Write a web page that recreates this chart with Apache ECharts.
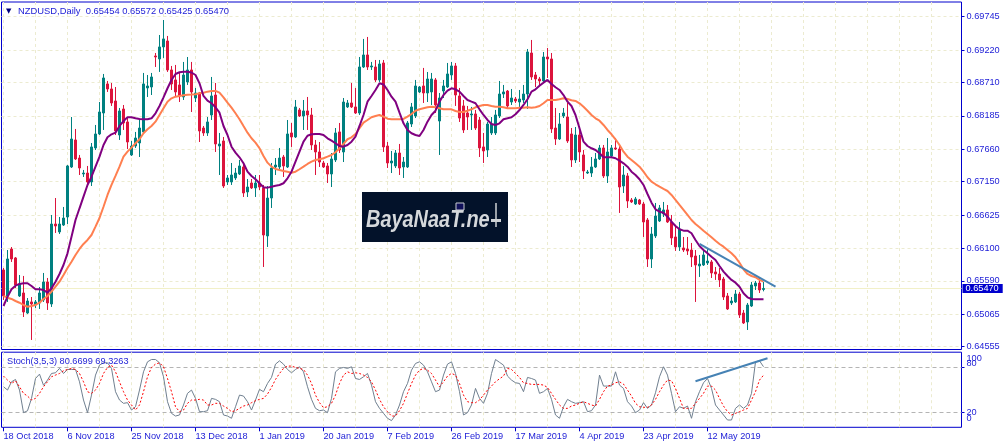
<!DOCTYPE html>
<html><head><meta charset="utf-8">
<script src="https://cdn.jsdelivr.net/npm/echarts@6/dist/echarts.min.js"></script>
<style>html,body{margin:0;padding:0;background:#fff;}#c{width:1007px;height:448px;}</style>
</head><body><div id="c"></div>
<script>
const symbolName = 'NZDUSD,Daily';
const headerOHLC = ['0.65454', '0.65572', '0.65425', '0.65470'];
const stochTitle = 'Stoch(3,5,3) 80.6699 69.3263';
const watermarkText = 'BayaNaaT.ne';
const dateLabels = ['18 Oct 2018', '6 Nov 2018', '25 Nov 2018', '13 Dec 2018', '1 Jan 2019', '20 Jan 2019',
  '7 Feb 2019', '26 Feb 2019', '17 Mar 2019', '4 Apr 2019', '23 Apr 2019', '12 May 2019'];
const labelStep = 16;
const gridStep = 8;
const slotCount = 240;
const priceTicks = [0.64555, 0.65065, 0.65590, 0.66100, 0.66625, 0.67150, 0.67660, 0.68185, 0.68710, 0.69220, 0.69745];
const priceMin = 0.64510, priceMax = 0.69976;
const lastPrice = 0.65470;
const stochInnerTicks = [20, 80];
const stochTopTick = [100];
const stochBottomTick = [0];
const stochLevels = [20, 80];

const openPrices = [
.65761,.65352,.66091,.65950,.65352,.65399,.65084,.65258,.65210,.65242,
.65289,.65572,.65226,.66484,.66359,.66468,.66594,.67381,.67806,.67522,
.67271,.67286,.67145,.67680,.67900,.68230,.68687,.68608,.68419,.67884,
.68293,.68089,.67570,.67711,.67759,.67932,.68624,.68639,.69127,.69080,
.69269,.69363,.68907,.68750,.68671,.68482,.68718,.68907,.68466,.68545,
.67994,.67916,.68199,.68513,.67711,.67790,.67145,.67145,.67208,.67271,
.67381,.66988,.67129,.67051,.67129,.67051,.66296,.66893,.67381,.67381,
.67538,.67381,.67916,.67853,.68278,.68183,.68262,.68199,.67727,.67617,
.67444,.67397,.67271,.67491,.67932,.67617,.68325,.68388,.68325,.68230,
.68954,.69143,.68954,.68954,.68750,.69017,.67711,.67444,.67397,.67601,
.67381,.67381,.68057,.68183,.68561,.68655,.68545,.68561,.68750,.68104,
.68576,.68639,.68828,.68970,.68498,.68341,.68230,.68199,.68215,.68120,
.67696,.67648,.67916,.67916,.68183,.68529,.68576,.68403,.68450,.68403,
.68435,.68529,.69174,.68828,.68765,.68734,.69111,.69080,.67994,.67821,
.68183,.68167,.67900,.67491,.67884,.67570,.67286,.67286,.67381,.67507,
.67680,.67240,.67554,.67680,.67664,.67082,.67240,.66862,.66799,.66862,
.66799,.66547,.65934,.66296,.66531,.66642,.66705,.66516,.66280,.66123,
.66107,.66091,.66075,.65981,.65824,.65839,.65871,.65887,.65730,.65698,
.65619,.65352,.65242,.65258,.65383,.65084,.64943,.65194,.65509,.65556,
.65454];
const highPrices = [
.65792,.66075,.66122,.65965,.65682,.65667,.65320,.65336,.65289,.65493,
.65714,.65635,.66626,.66893,.66594,.66752,.67412,.68167,.67979,.67570,
.67334,.67397,.67758,.68042,.68403,.68844,.68734,.68702,.68639,.68309,
.68356,.68167,.67790,.67932,.68120,.68860,.68828,.68860,.69174,.69457,
.69693,.69442,.68970,.68986,.68875,.69033,.69111,.69033,.68624,.68561,
.68026,.68167,.68797,.68702,.67916,.67853,.67255,.67444,.67365,.67491,
.67444,.67192,.67192,.67255,.67255,.67098,.67082,.67444,.67522,.67680,
.67570,.68120,.68073,.68435,.68309,.68435,.68482,.68309,.67806,.67774,
.67475,.67444,.67601,.67994,.68073,.68466,.68435,.68702,.68624,.69111,
.69395,.69426,.69033,.69064,.69064,.69064,.67774,.67633,.67648,.67743,
.67538,.68104,.68388,.68750,.68655,.68939,.68875,.68860,.68781,.68545,
.68750,.69017,.69033,.69017,.68624,.68435,.68341,.68325,.68278,.68167,
.67916,.68089,.68167,.68278,.68734,.68671,.68592,.68608,.68482,.68592,
.68671,.69237,.69379,.68875,.68797,.69190,.69253,.69174,.68309,.68230,
.68309,.68388,.67994,.68010,.67963,.67648,.67334,.67538,.67601,.67727,
.67727,.67837,.67727,.67837,.67727,.67397,.67286,.66893,.66909,.66878,
.66831,.66578,.66437,.66815,.66783,.66831,.66783,.66626,.66437,.66516,
.66280,.66280,.66186,.66075,.65997,.66091,.66091,.65918,.65808,.65792,
.65651,.65399,.65336,.65446,.65415,.65132,.65242,.65572,.65588,.65635,
.65572];
const lowPrices = [
.65289,.65258,.65887,.65478,.65336,.65021,.65069,.64660,.65163,.65147,
.65258,.65132,.65179,.66343,.66327,.66453,.66484,.67365,.67491,.67255,
.67224,.67082,.67082,.67648,.67884,.67963,.68561,.68341,.67884,.67806,
.67963,.67664,.67554,.67680,.67538,.67900,.68482,.68513,.68954,.68876,
.69096,.68876,.68592,.68482,.68403,.68435,.68671,.68246,.68403,.67774,
.67869,.67869,.68120,.67617,.67255,.67051,.67098,.67098,.67177,.67255,
.66909,.66909,.67035,.66909,.67019,.65808,.66123,.66736,.67255,.67334,
.67224,.67365,.67696,.67837,.68167,.67963,.67963,.67648,.67255,.67381,
.67365,.67129,.67066,.67459,.67601,.67459,.68309,.68309,.68215,.68199,
.68939,.68907,.68907,.68718,.68718,.67617,.67365,.67286,.67365,.67255,
.67208,.67365,.68010,.68151,.68545,.68388,.68403,.68356,.68230,.67570,
.68466,.68624,.68750,.68341,.68089,.67916,.67963,.67963,.67963,.67538,
.67444,.67538,.67884,.67884,.68151,.68466,.68309,.68356,.68388,.68325,
.68388,.68293,.68750,.68639,.68671,.68718,.68781,.67916,.67727,.67806,
.68151,.67759,.67381,.67444,.67459,.67192,.67271,.67224,.67365,.67491,
.67208,.67129,.67538,.67648,.66658,.66972,.66736,.66815,.66783,.66783,
.66280,.65808,.65792,.66264,.66516,.66594,.66500,.66154,.66060,.66060,
.66044,.65997,.65808,.65258,.65651,.65824,.65839,.65635,.65604,.65493,
.65289,.65132,.65210,.65242,.65006,.64911,.64817,.65179,.65446,.65399,
.65425];
const closePrices = [
.65352,.65934,.65934,.65525,.65541,.65100,.65273,.65226,.65258,.65399,
.65572,.65242,.66484,.66453,.66484,.66578,.67397,.67821,.67507,.67365,
.67286,.67145,.67696,.67900,.68246,.68781,.68608,.68388,.67947,.68262,
.68073,.67774,.67711,.67837,.67994,.68687,.68655,.68797,.69111,.69269,
.69395,.68907,.68687,.68561,.68498,.68828,.68907,.68561,.68545,.67947,
.67916,.68089,.68498,.67743,.67743,.67082,.67208,.67255,.67286,.67397,
.66972,.67066,.67051,.67129,.67066,.66311,.66893,.67365,.67412,.67522,
.67397,.67900,.67853,.68325,.68183,.68262,.68199,.67727,.67617,.67459,
.67381,.67271,.67507,.67916,.67648,.68403,.68388,.68325,.68230,.68954,
.69143,.68954,.68970,.68750,.69001,.67696,.67444,.67475,.67601,.67365,
.67459,.68073,.68325,.68655,.68639,.68545,.68765,.68765,.68356,.68466,
.68655,.68844,.68970,.68513,.68151,.67963,.68167,.68215,.67994,.67680,
.67633,.68057,.68057,.68199,.68529,.68561,.68341,.68466,.68419,.68450,
.68529,.69190,.68797,.68765,.68734,.69111,.69080,.67979,.67821,.68057,
.68230,.67790,.67491,.67884,.67617,.67318,.67302,.67381,.67507,.67680,
.67240,.67617,.67680,.67664,.67066,.67255,.66846,.66831,.66878,.66799,
.66516,.65934,.66327,.66610,.66736,.66705,.66516,.66264,.66123,.66406,
.66075,.66060,.65965,.65839,.65855,.65997,.65902,.65714,.65698,.65604,
.65336,.65147,.65273,.65383,.65053,.64927,.65210,.65525,.65556,.65446,
.65470];
const maSlow = [
.65352,.65325,.65305,.65273,.65246,.65210,.65183,.65194,.65210,.65246,
.65305,.65352,.65420,.65498,.65577,.65682,.65792,.65891,.65997,.66091,
.66170,.66233,.66311,.66442,.66578,.66756,.66941,.67098,.67240,.67386,
.67543,.67622,.67685,.67754,.67817,.67911,.67974,.68026,.68094,.68199,
.68304,.68408,.68461,.68487,.68498,.68509,.68518,.68521,.68525,.68540,
.68550,.68566,.68577,.68577,.68550,.68477,.68393,.68314,.68226,.68132,
.68026,.67921,.67833,.67764,.67676,.67554,.67449,.67386,.67349,.67334,
.67318,.67307,.67291,.67307,.67345,.67386,.67428,.67464,.67491,.67502,
.67518,.67543,.67570,.67612,.67676,.67743,.67817,.67848,.67900,.67990,
.68078,.68120,.68163,.68183,.68199,.68172,.68141,.68132,.68132,.68132,
.68136,.68172,.68215,.68266,.68288,.68304,.68320,.68329,.68320,.68304,
.68288,.68288,.68288,.68262,.68246,.68246,.68266,.68288,.68320,.68340,
.68356,.68356,.68340,.68329,.68329,.68320,.68304,.68304,.68304,.68313,
.68313,.68320,.68313,.68320,.68340,.68383,.68435,.68435,.68435,.68446,
.68461,.68450,.68430,.68419,.68383,.68329,.68266,.68199,.68147,.68109,
.68042,.67963,.67895,.67817,.67727,.67622,.67543,.67491,.67439,.67386,
.67307,.67219,.67150,.67109,.67071,.67035,.67003,.66941,.66862,.66783,
.66705,.66626,.66547,.66484,.66432,.66379,.66327,.66275,.66222,.66170,
.66127,.66075,.66023,.65960,.65875,.65771,.65698,.65666,.65646,.65604,
.65577];
const maFast = [
.65194,.65341,.65457,.65514,.65541,.65552,.65552,.65509,.65457,.65457,
.65446,.65404,.65473,.65577,.65698,.65839,.66023,.66285,.66547,.66731,
.66914,.67098,.67228,.67386,.67543,.67727,.67848,.67895,.67921,.68026,
.68104,.68163,.68163,.68147,.68136,.68132,.68132,.68147,.68226,.68340,
.68477,.68619,.68750,.68844,.68871,.68880,.68880,.68867,.68828,.68697,
.68498,.68424,.68383,.68320,.68235,.68026,.67884,.67700,.67606,.67533,
.67439,.67307,.67240,.67188,.67125,.67062,.67056,.67071,.67087,.67098,
.67125,.67203,.67307,.67464,.67622,.67779,.67873,.67895,.67900,.67900,
.67884,.67832,.67795,.67754,.67711,.67700,.67727,.67779,.67858,.68026,
.68199,.68408,.68498,.68592,.68697,.68679,.68592,.68487,.68408,.68235,
.68068,.67963,.67911,.67884,.67868,.67963,.68094,.68199,.68266,.68408,
.68513,.68581,.68619,.68603,.68566,.68498,.68435,.68408,.68383,.68288,
.68199,.68120,.68057,.68042,.68068,.68132,.68147,.68163,.68210,.68277,
.68356,.68446,.68566,.68603,.68660,.68707,.68750,.68687,.68635,.68592,
.68513,.68408,.68340,.68199,.67990,.67779,.67711,.67675,.67648,.67596,
.67533,.67533,.67533,.67518,.67480,.67439,.67386,.67307,.67255,.67188,
.67098,.66956,.66819,.66715,.66678,.66662,.66599,.66520,.66453,.66401,
.66379,.66379,.66338,.66233,.66138,.66075,.66023,.65970,.65918,.65824,
.65734,.65666,.65604,.65561,.65498,.65394,.65331,.65305,.65300,.65300,
.65300];
const stochK = [
54,49.6,60.6,63.7,49.6,19.5,22,38.5,65,70.8,
56,62.9,71.7,72.6,78.4,71.7,77,77,77,60.6,
36.3,19.5,42.9,69.5,82.8,85.9,85.9,78.4,47.4,36.3,
31.9,32.8,23,27.4,49.6,73.9,87.2,90.3,90.3,85.9,
67.3,34.1,18.6,15,16.4,29.7,45.2,49.6,38.5,20.8,
20.8,22.1,38.5,37.2,34.1,16.4,15,12,27.4,42.9,
41.6,34.1,23,36.3,50.5,47.4,58.4,66.4,84.1,88.5,
84.1,77,72.6,77,80.6,73.9,54,37.2,25.2,22.1,
23,19.5,38.5,73.9,78.4,79.7,78.4,80.6,65,63.7,
67.3,71.7,56.2,34.1,25.2,18.6,12,8.9,16.4,29.7,
47.4,58.4,76.1,85,87.2,82.8,73.9,60.6,47.4,49.6,
69.5,84.1,87.2,71.7,47.4,16.4,19.5,29.7,51.8,38.5,
31.9,45.2,71.7,90.3,86.5,82.8,68.2,62.9,59.3,58.4,
47.4,66.4,65,62.9,45.2,47.4,51.8,37.2,16.4,12,
27.4,37.2,34.1,31.9,32.8,34.1,20.8,22.1,29.7,69.5,
54.9,54.9,54.9,73.9,56.2,51.8,34.1,28.3,19.5,23,
32.8,25.2,29.7,46,67.3,80.6,69.5,45.2,20.8,27.4,
25.2,28.3,12,34.1,47.4,59.3,65,51.8,29.7,23,
16.4,9.7,9.7,25.2,29.7,25.2,29.7,45.2,87.2,88.5,
80.67];
const stochD = [
68.2,62.9,58.4,62,54,45.2,41.6,36.3,38.5,45.2,
54,60.6,67.3,69.5,71.7,75.3,77,78.4,77,71.7,
60.6,47.4,45.2,49.6,58.4,71.7,79.7,82.8,73.9,60.6,
47.4,36.3,29.7,23,29.7,47.4,67.3,79.7,84.1,85.9,
80.6,65,47.4,27.4,20.8,23,31.9,36.3,36.3,37.2,
36.3,29.7,29.7,31.9,31.9,28.3,25.2,20.8,22.1,25.2,
28.3,29.7,32.8,35.4,37.2,38.5,44.3,53.1,63.7,71.7,
78.4,81.5,81.5,79.7,78.4,77,69.5,58.4,42.9,32.8,
26.1,27.4,31.9,42.9,58.4,69.5,73.9,71.7,72.6,71.7,
69.5,66.4,60.6,49.6,37.2,27.4,20.8,15,15,22.1,
31.9,45.2,58.4,69.5,76.1,78.4,76.1,71.7,62.9,54,
60.6,68.2,71.7,69.5,58.4,42.9,34.1,32.8,32.8,36.3,
42.9,49.6,54.9,60.6,64.6,68.2,78.4,77,71.7,66.4,
59.3,58.4,57.1,57.1,57.1,56.2,53.1,45.2,37.2,29.7,
25.2,25.2,28.3,29.7,31.9,34.1,31.9,29.7,28.3,37.2,
47.4,54.9,56.2,59.3,60.6,57.5,49.6,41.6,31.9,27.4,
26.6,26.6,29.7,37.2,47.4,56.2,62.9,62,51.8,38.5,
25.2,25.2,25.2,31.9,38.5,45.2,54.9,54.9,49.6,38.5,
28.3,20.8,16.4,18.6,20.8,23,25.2,36.3,47.4,62.9,
69.33];
const priceTrend = [[174, 0.66170], [193, 0.65498]];
const stochTrend = [[173, 61.3], [191, 91.9]];

const FONT = '"Liberation Sans", Arial, sans-serif';
const FS = 9.2;
const BLUE = '#0000cd', TXT = '#1c1cd6', GRIDC = '#ecebd0';
const cats = Array.from({length: slotCount}, (_, i) => String(i));
const candles = openPrices.map((o, i) => [o, closePrices[i], lowPrices[i], highPrices[i]]);
const isDateTick = (i) => i % labelStep === 0 && i / labelStep < dateLabels.length;
const vSplit = {show: true, interval: (i) => i % gridStep === 0, alignWithLabel: true,
  lineStyle: {color: GRIDC, type: [3, 3], width: 1}};
const lbl = {color: TXT, fontSize: FS, fontFamily: FONT};

function stochAxis(values, extraLabel, showTick) {
  return {type: 'value', gridIndex: 1, position: 'right', min: 0, max: 100,
    axisLine: {show: false},
    axisTick: {show: showTick, customValues: values, length: 3, lineStyle: {color: BLUE}},
    axisLabel: Object.assign({customValues: values, margin: 5, showMinLabel: true, showMaxLabel: true, hideOverlap: false}, lbl, extraLabel),
    splitLine: {show: false}};
}

const chart = echarts.init(document.getElementById('c'), null, {renderer: 'canvas'});
chart.setOption({
  animation: false,
  backgroundColor: '#ffffff',
  textStyle: {fontFamily: FONT},
  grid: [
    {left: 1.5, top: 2, width: 960, height: 347.5, show: true, borderColor: BLUE, borderWidth: 1, outerBoundsMode: 'none'},
    {left: 1.5, top: 352.2, width: 960, height: 75.1, show: true, borderColor: BLUE, borderWidth: 1, outerBoundsMode: 'none'}
  ],
  xAxis: [
    {type: 'category', gridIndex: 0, data: cats, boundaryGap: true,
      axisLine: {show: false}, axisTick: {show: false}, axisLabel: {show: false}, splitLine: vSplit},
    {type: 'category', gridIndex: 1, data: cats, boundaryGap: true, axisLine: {show: false},
      axisTick: {show: true, alignWithLabel: true, interval: isDateTick, length: 4, lineStyle: {color: BLUE}},
      axisLabel: Object.assign({show: true, interval: isDateTick, formatter: (v, i) => dateLabels[i / labelStep] || '',
        align: 'left', margin: 5}, lbl),
      splitLine: vSplit}
  ],
  yAxis: [
    {type: 'value', gridIndex: 0, position: 'right', min: priceMin, max: priceMax, scale: true,
      axisLine: {show: false},
      axisTick: {show: true, customValues: priceTicks, length: 3, lineStyle: {color: BLUE}},
      axisLabel: Object.assign({customValues: priceTicks, formatter: (v) => v.toFixed(5), margin: 5, showMinLabel: true, showMaxLabel: true}, lbl),
      splitLine: {show: true, lineStyle: {color: GRIDC, type: [3, 3], width: 1}}},
    stochAxis(stochInnerTicks, {formatter: (v) => '{s' + v + '|' + v + '}',
      rich: {s80: Object.assign({padding: [0, 0, 7, 0]}, lbl), s20: Object.assign({}, lbl)}}, true),
    stochAxis(stochTopTick, {verticalAlign: 'top', padding: [2, 0, 0, 0]}, false),
    stochAxis(stochBottomTick, {verticalAlign: 'bottom', padding: [0, 0, 4, 0]}, false)
  ],
  series: [
    {type: 'candlestick', xAxisIndex: 0, yAxisIndex: 0, data: candles, barWidth: 3,
      itemStyle: {color: '#008080', color0: '#dc143c', borderColor: '#008080', borderColor0: '#dc143c', borderWidth: 1},
      markLine: {silent: true, symbol: ['none', 'none'], z: 1, animation: false, precision: 5,
        data: [{yAxis: lastPrice}],
        lineStyle: {color: '#f2f0c8', type: 'solid', width: 1},
        label: {show: true, position: 'end', distance: 1, formatter: lastPrice.toFixed(5),
          backgroundColor: BLUE, color: '#ffffff', padding: [0, 4, 0, 3], lineHeight: 9,
          fontSize: FS, fontFamily: FONT}}},
    {type: 'line', xAxisIndex: 0, yAxisIndex: 0, data: maSlow, symbol: 'none', silent: true,
      lineStyle: {color: '#ff7f50', width: 2}},
    {type: 'line', xAxisIndex: 0, yAxisIndex: 0, data: maFast, symbol: 'none', silent: true,
      lineStyle: {color: '#800080', width: 2}},
    {type: 'line', xAxisIndex: 0, yAxisIndex: 0, data: priceTrend, symbol: 'none', silent: true,
      lineStyle: {color: '#4682b4', width: 2}},
    {type: 'line', xAxisIndex: 1, yAxisIndex: 1, data: stochK, symbol: 'none', silent: true,
      lineStyle: {color: '#708090', width: 1},
      markLine: {silent: true, symbol: ['none', 'none'], z: 1, precision: 2, label: {show: false},
        data: stochLevels.map((v) => ({yAxis: v})),
        lineStyle: {color: '#b4b4b4', type: [4, 3], width: 1}}},
    {type: 'line', xAxisIndex: 1, yAxisIndex: 1, data: stochD, symbol: 'none', silent: true,
      lineStyle: {color: '#ff0000', width: 1, type: [2, 2]}},
    {type: 'line', xAxisIndex: 1, yAxisIndex: 1, data: stochTrend, symbol: 'none', silent: true,
      lineStyle: {color: '#4682b4', width: 2}}
  ],
  graphic: [
    {type: 'text', x: 6, y: 11, z: 50, style: {text: '\u25BC', fill: '#000080', font: '7px "DejaVu Sans"', verticalAlign: 'middle'}},
    {type: 'text', x: 18, y: 11, z: 50, style: {text: symbolName + '  ' + headerOHLC.join(' '), fill: TXT,
      font: '9.4px ' + FONT, verticalAlign: 'middle'}},
    {type: 'text', x: 7, y: 361, z: 50, style: {text: stochTitle, fill: TXT, font: FS + 'px ' + FONT, verticalAlign: 'middle'}},
    {type: 'group', z: 60, children: [
      {type: 'rect', shape: {x: 362, y: 192, width: 146, height: 50}, style: {fill: '#03122a'}, z: 60},
      {type: 'text', x: 366, y: 220, scaleX: 0.83, z: 61,
        style: {text: watermarkText, fill: '#d5d8db', font: 'italic bold 24px "Liberation Sans"', verticalAlign: 'middle'}},
      {type: 'line', shape: {x1: 496, y1: 203, x2: 496, y2: 227}, style: {stroke: '#cfd2d5', lineWidth: 1.5}, z: 61},
      {type: 'rect', shape: {x: 491, y: 219, width: 10, height: 3}, style: {fill: '#cfd2d5'}, z: 61},
      {type: 'rect', shape: {x: 456, y: 203, width: 8, height: 7}, style: {fill: '#10105a', stroke: '#c8ccd0', lineWidth: 1}, z: 62}
    ]}
  ]
});
</script>
</body></html>
